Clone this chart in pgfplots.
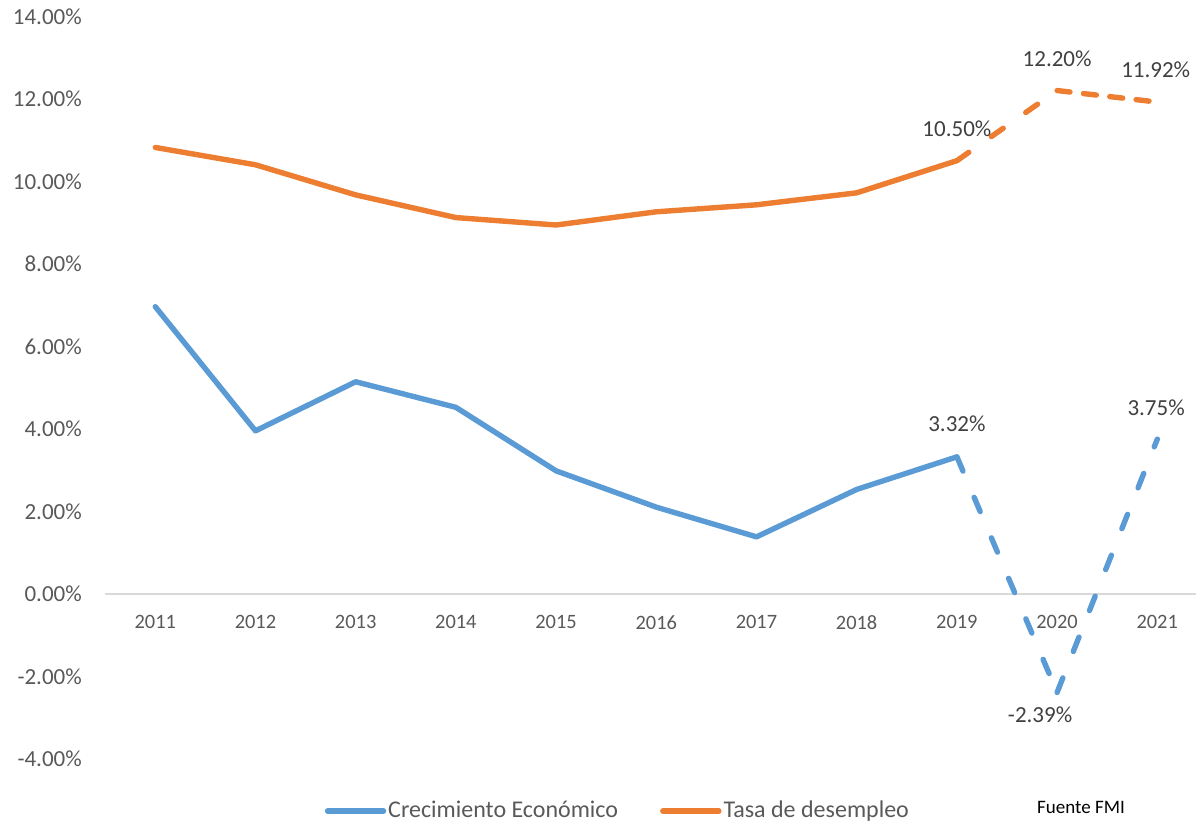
\documentclass[border=0pt]{standalone}
\usepackage{fontspec}
\setmainfont{Carlito}
\usepackage{pgfplots}
\pgfplotsset{compat=1.18}

\definecolor{serieblue}{HTML}{5B9BD5}
\definecolor{serieorange}{HTML}{ED7D31}
\definecolor{ticktext}{HTML}{595959}
\definecolor{labeltext}{HTML}{404040}
\definecolor{zeroline}{HTML}{D9D9D9}

\begin{document}
\begin{tikzpicture}
  % page size: keeps the 1196x823 proportions, right edge cuts the axis line
  \useasboundingbox (-52.6pt,-32.1pt) rectangle (545.4pt,379.4pt);
  \begin{axis}[
      scale only axis,
      width=545.4pt, height=371.25pt,
      xmin=2010.5, xmax=2021.386,
      ymin=-4, ymax=14,
      clip=false,
      axis x line*=middle,
      axis y line*=left,
      x axis line style={draw=zeroline, line width=0.8pt},
      y axis line style={draw=none},
      major tick length=0pt,
      xtick={2011,2012,...,2021},
      xticklabels={2011,2012,2013,2014,2015,2016,2017,2018,2019,2020,2021},
      xticklabel style={anchor=center, yshift=-14.3pt, font=\fontsize{10.2}{12}\selectfont, text=ticktext},
      ytick={-4,-2,...,14},
      yticklabels={-4.00\%,-2.00\%,0.00\%,2.00\%,4.00\%,6.00\%,8.00\%,10.00\%,12.00\%,14.00\%},
      yticklabel style={anchor=east, inner sep=0pt, xshift=-11.5pt, font=\fontsize{11.5}{13}\selectfont, text=ticktext},
      legend columns=2,
      legend style={draw=none, fill=none, at={(0.47,-0.0705)}, anchor=center,
        font=\fontsize{12}{14}\selectfont, text=ticktext,
        nodes={inner sep=1pt},
        /tikz/every even column/.append style={column sep=20pt}},
      legend cell align=left,
      legend image code/.code={\draw[#1] (0pt,0pt) -- (28pt,0pt);},
      every axis plot/.append style={line width=2.7pt, line cap=round, line join=round},
    ]
    % Crecimiento Economico, 2011-2019 (real)
    \addplot[serieblue, mark=none] coordinates {
      (2011,6.96) (2012,3.95) (2013,5.14) (2014,4.52) (2015,2.98)
      (2016,2.10) (2017,1.38) (2018,2.53) (2019,3.32)};
    \addlegendentry{Crecimiento Económico}
    % Tasa de desempleo, 2011-2019
    \addplot[serieorange, mark=none] coordinates {
      (2011,10.82) (2012,10.40) (2013,9.67) (2014,9.12) (2015,8.94)
      (2016,9.26) (2017,9.43) (2018,9.72) (2019,10.50)};
    \addlegendentry{Tasa de desempleo}

    % projections, dashed (pattern restarts on each segment)
    \addplot[serieblue, mark=none, forget plot, dash pattern=on 7.75pt off 14.25pt]
      coordinates {(2019,3.32) (2020,-2.39)};
    \addplot[serieblue, mark=none, forget plot, dash pattern=on 7.75pt off 14.25pt]
      coordinates {(2020,-2.39) (2021,3.75)};
    \addplot[serieorange, mark=none, forget plot, dash pattern=on 7.25pt off 13.75pt]
      coordinates {(2019,10.50) (2020,12.20)};
    \addplot[serieorange, mark=none, forget plot, dash pattern=on 6.5pt off 6.75pt]
      coordinates {(2020,12.20) (2021,11.92)};

    % data labels
    \begin{scope}[every node/.style={font=\fontsize{11.5}{13}\selectfont, text=labeltext, inner sep=0pt}]
      \node[yshift=16pt] at (axis cs:2019,10.50) {10.50\%};
      \node[yshift=16pt] at (axis cs:2020,12.20) {12.20\%};
      \node[yshift=16.2pt, xshift=-0.8pt] at (axis cs:2021,11.92) {11.92\%};
      \node[yshift=16.4pt] at (axis cs:2019,3.32) {3.32\%};
      \node[yshift=15.5pt, xshift=-0.6pt] at (axis cs:2021,3.75) {3.75\%};
      \node[yshift=-11.2pt, xshift=-8.5pt] at (axis cs:2020,-2.39) {-2.39\%};
    \end{scope}
    \node[font=\fontsize{9.5}{11}\selectfont, text=black] at (axis description cs:0.8946,-0.0652) {Fuente FMI};
  \end{axis}
\end{tikzpicture}
\end{document}
